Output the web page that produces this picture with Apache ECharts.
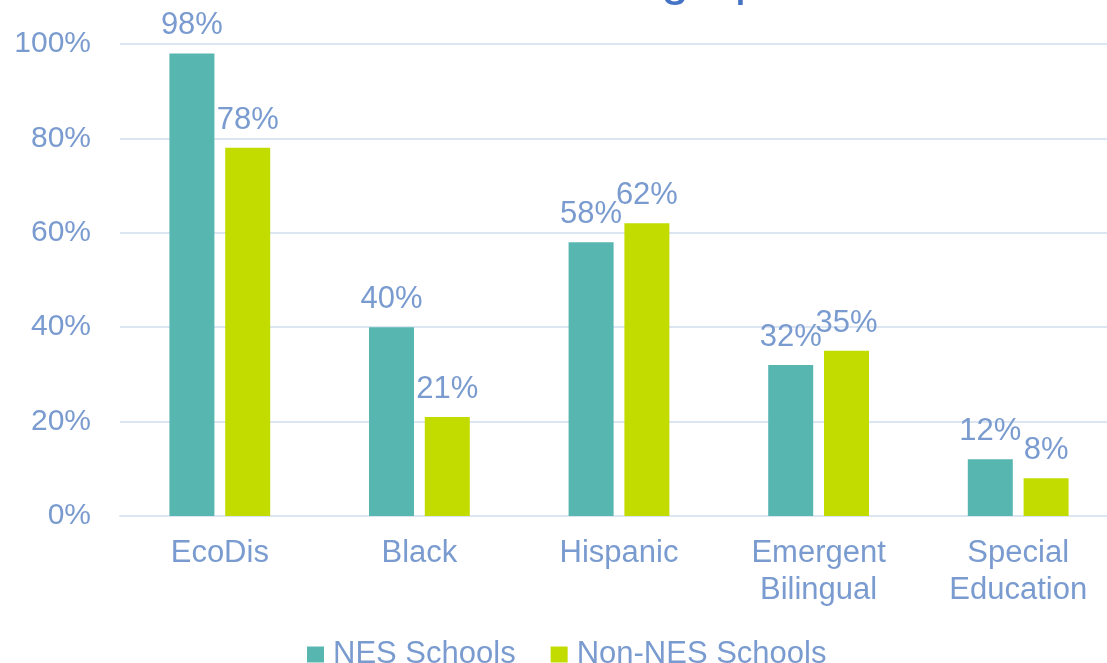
<!DOCTYPE html>
<html>
<head>
<meta charset="utf-8">
<script src="https://cdn.jsdelivr.net/npm/echarts@6/dist/echarts.min.js"></script>
<style>
  html, body { margin: 0; padding: 0; background: #fff; overflow: hidden; }
  /* plot runs past the right edge of the window, like the source slide */
  #chart { width: 1118px; height: 663px; }
</style>
</head>
<body>
<div id="chart"></div>
<script>
  // chart data
  var categories = ['EcoDis', 'Black', 'Hispanic', 'Emergent\nBilingual', 'Special\nEducation'];
  var nesValues = [98, 40, 58, 32, 12];
  var nonNesValues = [78, 21, 62, 35, 8];
  var seriesNames = ['NES Schools', 'Non-NES Schools'];

  var textColor = '#7a9bcf';
  var font = 'Liberation Sans, Arial, sans-serif';

  var myChart = echarts.init(document.getElementById('chart'));
  var option = {
    animation: false,
    textStyle: { fontFamily: font },
    title: {
      text: 'Student Demographics',
      left: 330,
      top: -51,
      textStyle: { color: '#4472c4', fontSize: 51, fontWeight: 'normal', fontFamily: font }
    },
    legend: {
      data: seriesNames,
      top: 634,
      left: 302,
      itemWidth: 17,
      itemHeight: 16,
      itemGap: 35,
      icon: 'rect',
      textStyle: { color: textColor, fontSize: 31, fontFamily: font, padding: [0, 0, 0, 4] }
    },
    grid: {
      left: 120,
      right: 0,
      top: 44,
      bottom: 147
    },
    xAxis: {
      type: 'category',
      data: categories,
      axisLine: { lineStyle: { color: '#dce5f2', width: 2 } },
      axisTick: { show: false },
      axisLabel: {
        color: textColor,
        fontSize: 31,
        lineHeight: 37,
        margin: 19,
        fontFamily: font
      }
    },
    yAxis: {
      type: 'value',
      min: 0,
      max: 100,
      interval: 20,
      axisLine: { show: false },
      axisTick: { show: false },
      splitLine: { lineStyle: { color: '#dce5f2', width: 2 } },
      axisLabel: {
        color: textColor,
        fontSize: 30,
        margin: 29,
        formatter: '{value}%',
        fontFamily: font
      }
    },
    series: [
      {
        name: seriesNames[0],
        type: 'bar',
        data: nesValues,
        barWidth: 45,
        barGap: '24%',
        itemStyle: { color: '#58b6b1' },
        label: {
          show: true,
          position: 'top',
          distance: 12,
          color: textColor,
          fontSize: 31,
          formatter: '{c}%',
          fontFamily: font
        }
      },
      {
        name: seriesNames[1],
        type: 'bar',
        data: nonNesValues,
        barWidth: 45,
        itemStyle: { color: '#c2dc00' },
        label: {
          show: true,
          position: 'top',
          distance: 12,
          color: textColor,
          fontSize: 31,
          formatter: '{c}%',
          fontFamily: font
        }
      }
    ]
  };
  myChart.setOption(option);
</script>
</body>
</html>
